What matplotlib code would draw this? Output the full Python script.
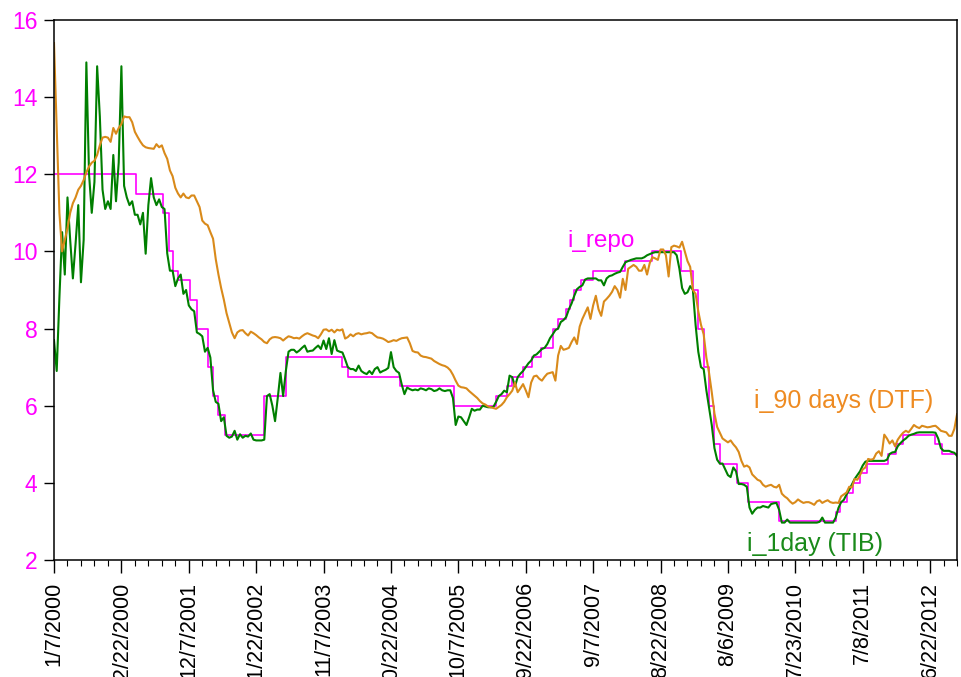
import numpy as np
import matplotlib
matplotlib.use('Agg')
import matplotlib.pyplot as plt
from matplotlib.ticker import MultipleLocator

# dados semanais, um valor a cada 2 semanas a partir de 1/7/2000
tib = [
    7.7, 6.9, 8.8, 10.5, 9.4, 11.4, 10.3, 9.3, 10.2, 11.2,
    9.2, 10.3, 14.9, 12.0, 11.0, 11.8, 14.8, 13.5, 11.6, 11.1,
    11.3, 11.1, 12.5, 11.3, 12.3, 14.8, 11.7, 11.4, 11.2, 11.3,
    10.95, 10.95, 10.7, 11.0, 9.94, 11.2, 11.9, 11.4, 11.2, 11.35,
    11.15, 11.1, 9.95, 9.5, 9.5, 9.1, 9.3, 9.4, 8.9, 9.0,
    8.6, 8.5, 8.45, 7.9, 7.86, 7.8, 7.4, 7.5, 7.25, 6.4,
    6.1, 6.05, 5.6, 5.7, 5.22, 5.17, 5.2, 5.35, 5.12, 5.26,
    5.17, 5.22, 5.2, 5.28, 5.12, 5.1, 5.1, 5.1, 5.12, 6.25,
    6.3, 6.0, 5.6, 6.2, 6.85, 6.25, 6.9, 7.4, 7.45, 7.45,
    7.38, 7.43, 7.5, 7.56, 7.4, 7.42, 7.43, 7.5, 7.56, 7.47,
    7.69, 7.47, 7.75, 7.34, 7.7, 7.43, 7.4, 7.38, 7.2, 7.0,
    6.95, 6.95, 6.9, 7.04, 6.9, 6.85, 6.82, 6.9, 6.82, 6.95,
    7.0, 6.86, 6.9, 6.93, 6.98, 7.39, 7.0, 6.9, 6.85, 6.55,
    6.3, 6.47, 6.43, 6.4, 6.42, 6.4, 6.45, 6.43, 6.4, 6.45,
    6.43, 6.38, 6.4, 6.45, 6.4, 6.38, 6.4, 6.4, 6.2, 5.5,
    5.72, 5.7, 5.6, 5.5, 5.7, 5.92, 5.87, 5.9, 5.9, 6.0,
    5.98, 5.96, 5.96, 5.97, 6.1, 6.25, 6.3, 6.39, 6.35, 6.78,
    6.74, 6.5, 6.74, 6.83, 6.9, 7.0, 7.1, 7.17, 7.3, 7.33,
    7.4, 7.47, 7.5, 7.6, 7.75, 7.85, 7.96, 8.0, 8.17, 8.22,
    8.3, 8.5, 8.65, 8.85, 9.02, 9.08, 9.12, 9.27, 9.3, 9.3,
    9.3, 9.3, 9.25, 9.25, 9.12, 9.3, 9.36, 9.38, 9.42, 9.45,
    9.47, 9.6, 9.72, 9.75, 9.78, 9.8, 9.82, 9.82, 9.82, 9.85,
    9.9, 9.93, 9.96, 9.98, 9.98, 9.98, 9.98, 9.98, 9.98, 9.98,
    9.98, 9.9, 9.55, 9.05, 8.9, 8.94, 9.1, 9.0, 8.1, 7.4,
    7.0, 6.95, 6.4, 5.95, 5.5, 4.9, 4.6, 4.5, 4.5, 4.35,
    4.2, 4.15, 4.4, 4.3, 3.97, 3.97, 3.95, 3.9, 3.36, 3.2,
    3.3, 3.36, 3.36, 3.4, 3.38, 3.36, 3.45, 3.47, 3.48, 3.3,
    2.97, 2.97, 3.05, 2.97, 2.97, 2.97, 2.97, 2.97, 2.97, 2.97,
    2.97, 2.97, 2.97, 2.97, 2.99, 3.1, 2.97, 2.97, 2.97, 2.97,
    3.1, 3.35, 3.5, 3.56, 3.7, 3.82, 3.96, 4.1, 4.2, 4.3,
    4.45, 4.55, 4.57, 4.57, 4.57, 4.57, 4.57, 4.57, 4.57, 4.6,
    4.75, 4.79, 4.8, 4.95, 5.03, 5.1, 5.15, 5.22, 5.25, 5.27,
    5.3, 5.31, 5.31, 5.31, 5.31, 5.31, 5.31, 5.3, 5.15, 4.9,
    4.83, 4.83, 4.83, 4.8, 4.78, 4.7,
]

dtf = [
    15.4, 13.2, 11.0, 10.0, 10.3, 10.6, 11.0, 11.25, 11.4, 11.6,
    11.7, 11.85, 12.05, 12.2, 12.3, 12.35, 12.5, 12.75, 12.95, 12.97,
    12.95, 12.84, 13.2, 13.05, 13.2, 13.3, 13.5, 13.48, 13.48, 13.35,
    13.1, 12.97, 12.85, 12.75, 12.7, 12.68, 12.67, 12.66, 12.78, 12.7,
    12.75, 12.55, 12.4, 12.1, 11.95, 11.65, 11.5, 11.4, 11.5, 11.4,
    11.38, 11.45, 11.45, 11.3, 11.15, 10.8, 10.72, 10.68, 10.5, 10.33,
    9.8, 9.4, 9.05, 8.75, 8.4, 8.15, 7.9, 7.75, 7.9, 7.95,
    7.96, 7.88, 7.82, 7.92, 7.88, 7.83, 7.77, 7.72, 7.65, 7.62,
    7.72, 7.77, 7.78, 7.77, 7.75, 7.69, 7.75, 7.8, 7.78, 7.75,
    7.76, 7.74, 7.8, 7.85, 7.88, 7.85, 7.82, 7.8, 7.75, 7.85,
    7.97, 7.98, 7.93, 7.97, 7.9, 7.97, 7.95, 7.98, 7.74, 7.78,
    7.85, 7.8, 7.86, 7.88, 7.85, 7.87, 7.88, 7.9, 7.88, 7.82,
    7.77, 7.76, 7.74, 7.7, 7.65, 7.67, 7.7, 7.68, 7.72, 7.75,
    7.76, 7.77, 7.62, 7.42, 7.39, 7.38, 7.3, 7.27, 7.26, 7.24,
    7.22, 7.16, 7.12, 7.08, 7.05, 7.03, 6.99, 6.92, 6.8, 6.65,
    6.52, 6.48, 6.47, 6.45, 6.38, 6.32, 6.26, 6.2, 6.12, 6.06,
    6.03, 5.98, 5.96, 5.94, 5.92, 5.97, 6.02, 6.1, 6.22, 6.3,
    6.39, 6.6, 6.35, 6.45, 6.56, 6.4, 6.22, 6.6, 6.76, 6.78,
    6.7, 6.65, 6.75, 6.83, 6.85, 6.87, 6.65, 7.3, 7.55, 7.45,
    7.47, 7.5, 7.65, 7.77, 7.6, 8.05, 8.25, 8.4, 8.55, 8.25,
    8.6, 8.85, 8.5, 8.33, 8.7, 8.77, 8.85, 8.95, 9.1, 9.0,
    8.8, 9.29, 9.0, 9.55, 9.6, 9.65, 9.6, 9.5, 9.5, 9.65,
    9.4, 9.7, 9.85, 9.82, 9.78, 10.05, 10.05, 9.9, 9.35, 10.11,
    10.15, 10.13, 10.1, 10.25, 10.0, 9.75, 9.6, 9.0, 8.9, 8.45,
    8.1, 7.85, 7.25, 6.85, 6.35, 5.8, 5.45, 5.3, 5.15, 5.1,
    5.05, 5.1, 5.0, 4.92, 4.8, 4.57, 4.42, 4.45, 4.4, 4.22,
    4.15, 4.08, 4.05, 3.95, 3.9, 3.93, 3.95, 3.9, 3.88, 3.95,
    3.72, 3.65, 3.6, 3.52, 3.46, 3.5, 3.57, 3.52, 3.48, 3.5,
    3.5, 3.47, 3.43, 3.52, 3.55, 3.48, 3.52, 3.55, 3.5, 3.48,
    3.49, 3.48, 3.65, 3.7, 3.75, 3.9, 3.88, 4.1, 4.08, 4.2,
    4.35, 4.4, 4.62, 4.6, 4.62, 4.76, 4.82, 4.7, 5.25, 5.15,
    5.02, 5.1, 4.95, 5.12, 5.22, 5.3, 5.35, 5.31, 5.4, 5.5,
    5.45, 5.42, 5.48, 5.46, 5.44, 5.45, 5.47, 5.48, 5.42, 5.35,
    5.33, 5.31, 5.22, 5.22, 5.4, 5.78,
]

# taxa repo: semana (observacao) em que muda e o novo nivel
repo_week = [0, 61, 81, 85, 88, 92, 101, 106, 114, 118, 122, 127, 156, 172,
             214, 218, 257, 297, 328, 336, 340, 348, 355, 361, 370, 374, 380,
             383, 386, 391, 400, 424, 444, 465, 474, 478, 482, 486, 490, 494,
             507, 515, 538, 580, 583, 588, 593, 598, 603, 619, 625, 630, 654,
             659]
repo_level = [12.0, 11.5, 11.0, 10.0, 9.5, 9.25, 8.75, 8.0, 7.0, 6.25, 5.75,
              5.25, 6.25, 7.25, 7.0, 6.75, 6.5, 6.0, 6.25, 6.5, 6.75, 7.0,
              7.25, 7.5, 8.0, 8.25, 8.5, 8.75, 9.0, 9.25, 9.5, 9.75, 10.0,
              9.5, 9.0, 8.0, 7.0, 6.0, 5.0, 4.5, 4.0, 3.5, 3.0, 3.25, 3.5,
              3.75, 4.0, 4.25, 4.5, 4.75, 5.0, 5.25, 5.0, 4.75]

# rotulos do eixo x (uma data a cada 50 observacoes)
rotulos_x = ['1/7/2000', '12/22/2000', '12/7/2001', '11/22/2002', '11/7/2003',
             '10/22/2004', '10/7/2005', '9/22/2006', '9/7/2007', '8/22/2008',
             '8/6/2009', '7/23/2010', '7/8/2011', '6/22/2012']

plt.rcParams['font.family'] = ['Liberation Sans', 'DejaVu Sans']

MAGENTA = '#FF00FF'
VERDE = '#007F00'
LARANJA = '#D98A1A'


def main():
    semanas = np.arange(len(tib)) * 2
    ultima = int(semanas[-1])

    fig = plt.figure(figsize=(9.61, 6.77), dpi=100)
    ax = fig.add_axes([0.0562, 0.1728, 0.9397, 0.7977])

    ax.step(repo_week + [ultima], repo_level + [repo_level[-1]], where='post',
            color=MAGENTA, lw=1.2)
    ax.plot(semanas, tib, color=VERDE, lw=1.5)
    ax.plot(semanas, dtf, color=LARANJA, lw=1.5)

    ax.set_xlim(0, ultima)
    ax.set_ylim(2, 16)

    ax.set_xticks(range(0, 50 * len(rotulos_x), 50))
    ax.set_xticklabels(rotulos_x)
    ax.xaxis.set_minor_locator(MultipleLocator(10))
    ax.tick_params(axis='x', which='major', length=9.5, width=1, labelrotation=90,
                   labelsize=15.5, pad=6)
    ax.tick_params(axis='x', which='minor', length=4.5, width=0.8)

    ax.set_yticks(range(2, 17, 2))
    ax.tick_params(axis='y', length=7, width=1, labelcolor=MAGENTA,
                   labelsize=16.5, pad=5)

    for s in ax.spines.values():
        s.set_linewidth(1.1)

    ax.text(406, 10.26, 'i_repo', color=MAGENTA, fontsize=17.5,
            ha='center', va='center')
    ax.text(519, 6.13, 'i_90 days (DTF)', color='#EE8B22', fontsize=18,
            ha='left', va='center')
    ax.text(514, 2.42, 'i_1day (TIB)', color='#1A8A1A', fontsize=18,
            ha='left', va='center')

    fig.savefig('out.png', dpi=100)


if __name__ == '__main__':
    main()
